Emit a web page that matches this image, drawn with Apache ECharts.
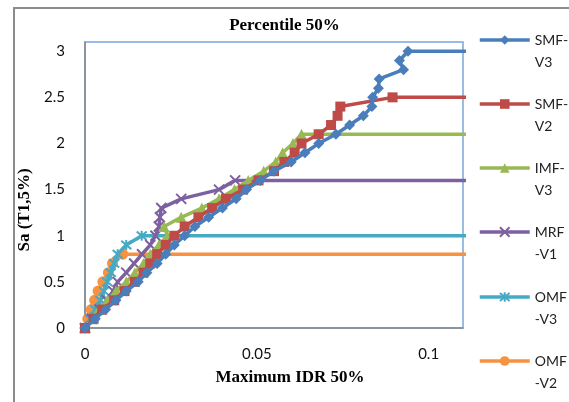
<!DOCTYPE html>
<html>
<head>
<meta charset="utf-8">
<script src="https://cdn.jsdelivr.net/npm/echarts@6/dist/echarts.min.js"></script>
<style>
  html, body { margin: 0; padding: 0; background: #fff; }
  #chart { width: 569px; height: 402px; }
</style>
</head>
<body>
<div id="chart"></div>
<script>
// [Maximum IDR, Sa] pairs
var smfV3 = [[0,0],[0.003,0.1],[0.006,0.2],[0.009,0.3],[0.012,0.4],[0.0155,0.5],[0.018,0.6],[0.021,0.7],
  [0.0235,0.8],[0.026,0.9],[0.029,1.0],[0.032,1.1],[0.036,1.2],[0.040,1.3],[0.044,1.4],[0.047,1.5],
  [0.051,1.6],[0.055,1.7],[0.060,1.8],[0.064,1.9],[0.068,2.0],[0.073,2.1],[0.077,2.2],[0.081,2.3],
  [0.0835,2.4],[0.0837,2.5],[0.0854,2.6],[0.0856,2.7],[0.0927,2.8],[0.0915,2.9],[0.094,3.0],[0.2,3.0]];
var smfV2 = [[0,0],[0.0025,0.1],[0.005,0.2],[0.0085,0.3],[0.0115,0.4],[0.0145,0.5],[0.017,0.6],[0.019,0.7],
  [0.021,0.8],[0.0235,0.9],[0.026,1.0],[0.029,1.1],[0.033,1.2],[0.037,1.3],[0.041,1.4],[0.046,1.5],
  [0.0505,1.6],[0.055,1.7],[0.058,1.8],[0.061,1.9],[0.063,2.0],[0.068,2.1],[0.0716,2.2],[0.0735,2.3],
  [0.0743,2.4],[0.0895,2.5],[0.2,2.5]];
var imfV3 = [[0,0],[0.002,0.1],[0.004,0.2],[0.0065,0.3],[0.009,0.4],[0.012,0.5],[0.0145,0.6],[0.017,0.7],
  [0.019,0.8],[0.0215,0.9],[0.024,1.0],[0.023,1.1],[0.028,1.2],[0.034,1.3],[0.039,1.4],[0.0435,1.5],
  [0.0475,1.6],[0.052,1.7],[0.0555,1.8],[0.0575,1.9],[0.0605,2.0],[0.063,2.1],[0.2,2.1]];
var mrfV1 = [[0,0],[0.002,0.1],[0.0042,0.2],[0.0063,0.3],[0.0082,0.4],[0.0095,0.5],[0.012,0.6],[0.0143,0.7],
  [0.0166,0.8],[0.019,0.9],[0.0205,1.0],[0.0215,1.1],[0.0218,1.2],[0.0222,1.3],[0.028,1.4],[0.039,1.5],
  [0.0437,1.6],[0.2,1.6]];
var omfV3 = [[0,0],[0.0015,0.1],[0.003,0.2],[0.0045,0.3],[0.0055,0.4],[0.0065,0.5],[0.0075,0.6],[0.0085,0.7],
  [0.0095,0.8],[0.012,0.9],[0.0165,1.0],[0.2,1.0]];
var omfV2 = [[0,0],[0.0008,0.1],[0.0018,0.2],[0.0028,0.3],[0.0038,0.4],[0.0052,0.5],[0.0068,0.6],[0.008,0.7],
  [0.011,0.8],[0.2,0.8]];

var seriesNames = ['SMF-\nV3', 'SMF-\nV2', 'IMF-\nV3', 'MRF\n-V1', 'OMF\n-V3', 'OMF\n-V2'];
var seriesData = [smfV3, smfV2, imfV3, mrfV1, omfV3, omfV2];
var colors = ['#4A7EBB', '#BE4B48', '#98B954', '#7D60A0', '#46AAC5', '#F69240'];

var crossPath = 'path://M0,0L10,10M10,0L0,10';
var starPath = 'path://M0,0L10,10M10,0L0,10M5,-1L5,11';
var symbols = ['diamond', 'rect', 'triangle', crossPath, starPath, 'circle'];
var sizes = [11, 10, 11, 10, 10, 11];
var legendY = [40, 104, 168, 232, 297, 361];

var series = seriesData.map(function (d, i) {
  var stroked = i === 3 || i === 4;
  return {
    name: seriesNames[i],
    type: 'line',
    data: d,
    clip: true,
    symbol: symbols[i],
    symbolSize: sizes[i],
    showAllSymbol: true,
    color: colors[i],
    lineStyle: { width: 3.5, color: colors[i] },
    itemStyle: stroked ? { color: colors[i], borderColor: colors[i], borderWidth: 2 } : { color: colors[i] },
    z: 10 - i
  };
});

// one legend per entry so each can sit where the reference puts it
var legends = seriesNames.map(function (n, i) {
  return {
    orient: 'vertical',
    left: 478,
    top: legendY[i] - 29,
    padding: 0,
    itemWidth: 50,
    itemHeight: 12,
    data: [n],
    lineStyle: { width: 3.5 },
    formatter: function (name) {
      var parts = name.split('\n');
      return '{a| }\n{a|' + parts[0] + '}\n{a|' + parts[1] + '}';
    },
    textStyle: {
      rich: { a: { fontFamily: 'Lato', fontSize: 14, lineHeight: 22, color: '#222' } }
    }
  };
});

var myChart = echarts.init(document.getElementById('chart'));
var option = {
  animation: false,
  title: {
    text: 'Percentile 50%',
    left: 'center',
    top: 12,
    textStyle: { fontFamily: 'Liberation Serif', fontWeight: 'bold', fontSize: 17, color: '#000' }
  },
  legend: legends,
  grid: {
    left: 85, top: 42, right: 106, bottom: 74,
    show: true, borderColor: '#7BA7D9', borderWidth: 1.5, backgroundColor: '#fff'
  },
  xAxis: {
    type: 'value',
    min: 0, max: 0.11, interval: 0.05,
    name: 'Maximum IDR 50%',
    nameLocation: 'middle',
    nameGap: 41,
    nameTextStyle: { fontFamily: 'Liberation Serif', fontWeight: 'bold', fontSize: 17, color: '#000', padding: [0, 0, 0, 32] },
    axisLine: { show: true, lineStyle: { color: '#878787', width: 1.5 } },
    axisTick: { show: false },
    splitLine: { show: false },
    axisLabel: { showMaxLabel: false, margin: 19, fontFamily: 'Lato', fontSize: 15, color: '#111' }
  },
  yAxis: {
    type: 'value',
    min: 0, max: 3.1, interval: 0.5,
    name: 'Sa (T1,5%)',
    nameLocation: 'middle',
    nameGap: 46,
    nameTextStyle: { fontFamily: 'Liberation Serif', fontWeight: 'bold', fontSize: 17, color: '#000', padding: [0, 50, 0, 0] },
    axisLine: { show: true, lineStyle: { color: '#878787', width: 1.5 } },
    axisTick: { show: false },
    splitLine: { show: false },
    axisLabel: { showMaxLabel: false, margin: 20, fontFamily: 'Lato', fontSize: 15, color: '#111' }
  },
  graphic: [{
    type: 'rect',
    shape: { x: 14, y: 8, width: 600, height: 420 },
    style: { fill: 'none', stroke: '#8C8C8C', lineWidth: 2 },
    z: -1
  }],
  series: series
};
myChart.setOption(option);
</script>
</body>
</html>
